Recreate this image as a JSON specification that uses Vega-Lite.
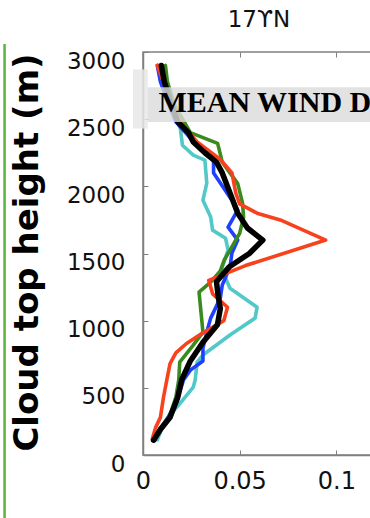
{
  "$schema": "https://vega.github.io/schema/vega-lite/v6.json",
  "width": 232,
  "height": 403,
  "autosize": "none",
  "padding": {"left": 143, "top": 52, "right": 0, "bottom": 63},
  "background": "white",
  "title": {"text": "17ϒN", "font": "DejaVu Sans", "fontSize": 23, "fontWeight": "normal", "color": "#111", "baseline": "alphabetic", "offset": 17, "dy": 24},
  "config": {"view": {"stroke": "#808080", "strokeWidth": 1.5}},
  "datasets": {
    "profiles": [
      {"s": "cyan", "h": 2850, "f": 0.0095},
      {"s": "cyan", "h": 2730, "f": 0.0115},
      {"s": "cyan", "h": 2552, "f": 0.0157},
      {"s": "cyan", "h": 2433, "f": 0.0193},
      {"s": "cyan", "h": 2306, "f": 0.0204},
      {"s": "cyan", "h": 2232, "f": 0.026},
      {"s": "cyan", "h": 2195, "f": 0.032},
      {"s": "cyan", "h": 2024, "f": 0.033},
      {"s": "cyan", "h": 1897, "f": 0.031},
      {"s": "cyan", "h": 1771, "f": 0.035},
      {"s": "cyan", "h": 1674, "f": 0.036},
      {"s": "cyan", "h": 1614, "f": 0.0427},
      {"s": "cyan", "h": 1525, "f": 0.044},
      {"s": "cyan", "h": 1399, "f": 0.041},
      {"s": "cyan", "h": 1339, "f": 0.042},
      {"s": "cyan", "h": 1242, "f": 0.045},
      {"s": "cyan", "h": 1100, "f": 0.059},
      {"s": "cyan", "h": 1019, "f": 0.058},
      {"s": "cyan", "h": 893, "f": 0.045},
      {"s": "cyan", "h": 744, "f": 0.031},
      {"s": "cyan", "h": 692, "f": 0.028},
      {"s": "cyan", "h": 558, "f": 0.027},
      {"s": "cyan", "h": 506, "f": 0.026},
      {"s": "cyan", "h": 387, "f": 0.0193},
      {"s": "cyan", "h": 283, "f": 0.013},
      {"s": "cyan", "h": 190, "f": 0.0095},
      {"s": "cyan", "h": 112, "f": 0.0074},
      {"s": "blue", "h": 2900, "f": 0.0074},
      {"s": "blue", "h": 2780, "f": 0.009},
      {"s": "blue", "h": 2620, "f": 0.013},
      {"s": "blue", "h": 2480, "f": 0.017},
      {"s": "blue", "h": 2360, "f": 0.0245},
      {"s": "blue", "h": 2195, "f": 0.0365},
      {"s": "blue", "h": 2100, "f": 0.0365},
      {"s": "blue", "h": 2024, "f": 0.040},
      {"s": "blue", "h": 1875, "f": 0.047},
      {"s": "blue", "h": 1823, "f": 0.049},
      {"s": "blue", "h": 1696, "f": 0.044},
      {"s": "blue", "h": 1600, "f": 0.049},
      {"s": "blue", "h": 1503, "f": 0.046},
      {"s": "blue", "h": 1400, "f": 0.045},
      {"s": "blue", "h": 1265, "f": 0.041},
      {"s": "blue", "h": 1168, "f": 0.040},
      {"s": "blue", "h": 1019, "f": 0.035},
      {"s": "blue", "h": 915, "f": 0.033},
      {"s": "blue", "h": 796, "f": 0.031},
      {"s": "blue", "h": 700, "f": 0.031},
      {"s": "blue", "h": 632, "f": 0.0245},
      {"s": "blue", "h": 560, "f": 0.021},
      {"s": "blue", "h": 410, "f": 0.0177},
      {"s": "blue", "h": 280, "f": 0.013},
      {"s": "blue", "h": 190, "f": 0.0085},
      {"s": "blue", "h": 110, "f": 0.006},
      {"s": "green", "h": 2900, "f": 0.0116},
      {"s": "green", "h": 2780, "f": 0.0126},
      {"s": "green", "h": 2600, "f": 0.0165},
      {"s": "green", "h": 2400, "f": 0.0245},
      {"s": "green", "h": 2320, "f": 0.0386},
      {"s": "green", "h": 2180, "f": 0.041},
      {"s": "green", "h": 2020, "f": 0.049},
      {"s": "green", "h": 1875, "f": 0.0515},
      {"s": "green", "h": 1770, "f": 0.052},
      {"s": "green", "h": 1650, "f": 0.050},
      {"s": "green", "h": 1575, "f": 0.047},
      {"s": "green", "h": 1450, "f": 0.042},
      {"s": "green", "h": 1370, "f": 0.040},
      {"s": "green", "h": 1287, "f": 0.035},
      {"s": "green", "h": 1213, "f": 0.029},
      {"s": "green", "h": 1064, "f": 0.030},
      {"s": "green", "h": 915, "f": 0.031},
      {"s": "green", "h": 818, "f": 0.026},
      {"s": "green", "h": 692, "f": 0.019},
      {"s": "green", "h": 560, "f": 0.0185},
      {"s": "green", "h": 430, "f": 0.017},
      {"s": "green", "h": 280, "f": 0.0135},
      {"s": "green", "h": 190, "f": 0.0085},
      {"s": "green", "h": 110, "f": 0.005},
      {"s": "red", "h": 2900, "f": 0.0074},
      {"s": "red", "h": 2780, "f": 0.0105},
      {"s": "red", "h": 2620, "f": 0.0145},
      {"s": "red", "h": 2480, "f": 0.019},
      {"s": "red", "h": 2330, "f": 0.028},
      {"s": "red", "h": 2200, "f": 0.040},
      {"s": "red", "h": 2100, "f": 0.046},
      {"s": "red", "h": 1950, "f": 0.048},
      {"s": "red", "h": 1870, "f": 0.050},
      {"s": "red", "h": 1800, "f": 0.059},
      {"s": "red", "h": 1750, "f": 0.071},
      {"s": "red", "h": 1600, "f": 0.0945},
      {"s": "red", "h": 1410, "f": 0.053},
      {"s": "red", "h": 1300, "f": 0.034},
      {"s": "red", "h": 1200, "f": 0.036},
      {"s": "red", "h": 1100, "f": 0.0437},
      {"s": "red", "h": 1000, "f": 0.0418},
      {"s": "red", "h": 900, "f": 0.030},
      {"s": "red", "h": 830, "f": 0.0225},
      {"s": "red", "h": 760, "f": 0.017},
      {"s": "red", "h": 680, "f": 0.014},
      {"s": "red", "h": 580, "f": 0.0126},
      {"s": "red", "h": 430, "f": 0.0106},
      {"s": "red", "h": 280, "f": 0.009},
      {"s": "red", "h": 200, "f": 0.0064},
      {"s": "red", "h": 120, "f": 0.0048},
      {"s": "black", "h": 2900, "f": 0.0095},
      {"s": "black", "h": 2780, "f": 0.011},
      {"s": "black", "h": 2620, "f": 0.0145},
      {"s": "black", "h": 2480, "f": 0.018},
      {"s": "black", "h": 2400, "f": 0.0235},
      {"s": "black", "h": 2330, "f": 0.026},
      {"s": "black", "h": 2250, "f": 0.032},
      {"s": "black", "h": 2180, "f": 0.038},
      {"s": "black", "h": 2100, "f": 0.041},
      {"s": "black", "h": 1950, "f": 0.045},
      {"s": "black", "h": 1800, "f": 0.049},
      {"s": "black", "h": 1690, "f": 0.054},
      {"s": "black", "h": 1600, "f": 0.062},
      {"s": "black", "h": 1500, "f": 0.055},
      {"s": "black", "h": 1400, "f": 0.0445},
      {"s": "black", "h": 1290, "f": 0.038},
      {"s": "black", "h": 1170, "f": 0.039},
      {"s": "black", "h": 1090, "f": 0.040},
      {"s": "black", "h": 970, "f": 0.0385},
      {"s": "black", "h": 840, "f": 0.031},
      {"s": "black", "h": 700, "f": 0.0245},
      {"s": "black", "h": 560, "f": 0.020},
      {"s": "black", "h": 430, "f": 0.018},
      {"s": "black", "h": 280, "f": 0.014},
      {"s": "black", "h": 190, "f": 0.009},
      {"s": "black", "h": 110, "f": 0.0055}
    ],
    "banner": [{"x1": 0.0025, "x2": 0.13, "y1": 2478, "y2": 2738}],
    "tab": [{"x1": -0.0052, "x2": 0.0025, "y1": 2430, "y2": 2870}],
    "label": [{"x": 0.008, "y": 2552, "t": "MEAN WIND DIRECTION"}],
    "edge": [{"x": -0.0716, "y1": 3060, "y2": -480}]
  },
  "resolve": {"axis": {"x": "independent", "y": "independent"}},
  "layer": [
    {
      "data": {"name": "profiles"},
      "mark": {"type": "line", "strokeJoin": "round", "strokeCap": "round"},
      "encoding": {
        "x": {"field": "f", "type": "quantitative", "scale": {"domain": [0, 0.12], "nice": false, "zero": false},
          "axis": {"orient": "bottom", "values": [0, 0.05, 0.1], "format": "~g", "title": null, "grid": false,
            "domainColor": "#808080", "domainWidth": 1.5, "tickColor": "#808080", "tickSize": -5, "tickWidth": 1,
            "labelFont": "DejaVu Sans", "labelFontSize": 24, "labelColor": "#111", "labelPadding": 19, "labelBaseline": "top", "labelFlush": false}},
        "y": {"field": "h", "type": "quantitative", "scale": {"domain": [0, 3000], "nice": false},
          "axis": {"orient": "left", "values": [0, 500, 1000, 1500, 2000, 2500, 3000], "format": "d", "grid": false,
            "title": "Cloud top height (m)", "titleFont": "DejaVu Sans", "titleFontSize": 34, "titleFontWeight": "bold", "titleColor": "#000",
            "titleAngle": -90, "titleAlign": "center", "titleBaseline": "alphabetic", "titleX": -106, "titleY": 200,
            "domainColor": "#808080", "domainWidth": 1.5, "tickColor": "#808080", "tickSize": -5, "tickWidth": 1,
            "labelFont": "DejaVu Sans", "labelFontSize": 23, "labelColor": "#111", "labelPadding": 23, "labelOffset": 9, "labelFlush": false}},
        "order": {"field": "h", "type": "quantitative"},
        "color": {"field": "s", "type": "nominal", "legend": null,
          "scale": {"domain": ["cyan", "blue", "green", "red", "black"], "range": ["#52c8c8", "#2040ff", "#3a8a1e", "#f8411d", "#000000"]}},
        "strokeWidth": {"condition": {"test": "datum.s === 'black'", "value": 5.5}, "value": 3.6}
      }
    },
    {
      "data": {"name": "tab"},
      "mark": {"type": "rect", "color": "#e8e8e8", "opacity": 0.85},
      "encoding": {
        "x": {"field": "x1", "type": "quantitative", "axis": null},
        "x2": {"field": "x2"},
        "y": {"field": "y1", "type": "quantitative", "axis": null},
        "y2": {"field": "y2"}
      }
    },
    {
      "data": {"name": "banner"},
      "mark": {"type": "rect", "color": "#dcdcdc", "opacity": 0.82},
      "encoding": {
        "x": {"field": "x1", "type": "quantitative", "axis": {"orient": "top", "values": [0, 0.05, 0.1], "labels": false, "title": null, "grid": false, "domain": false, "tickColor": "#808080", "tickSize": -5}},
        "x2": {"field": "x2"},
        "y": {"field": "y1", "type": "quantitative", "axis": null},
        "y2": {"field": "y2"}
      }
    },
    {
      "data": {"name": "label"},
      "mark": {"type": "text", "align": "left", "baseline": "alphabetic", "font": "Liberation Serif", "fontWeight": "bold", "fontSize": 30, "color": "#000"},
      "encoding": {
        "x": {"field": "x", "type": "quantitative", "axis": null},
        "y": {"field": "y", "type": "quantitative", "axis": null},
        "text": {"field": "t"}
      }
    },
    {
      "data": {"name": "edge"},
      "mark": {"type": "rule", "color": "#5db43a", "strokeWidth": 2.5},
      "encoding": {
        "x": {"field": "x", "type": "quantitative", "axis": null},
        "y": {"field": "y1", "type": "quantitative", "axis": null},
        "y2": {"field": "y2"}
      }
    }
  ]
}
